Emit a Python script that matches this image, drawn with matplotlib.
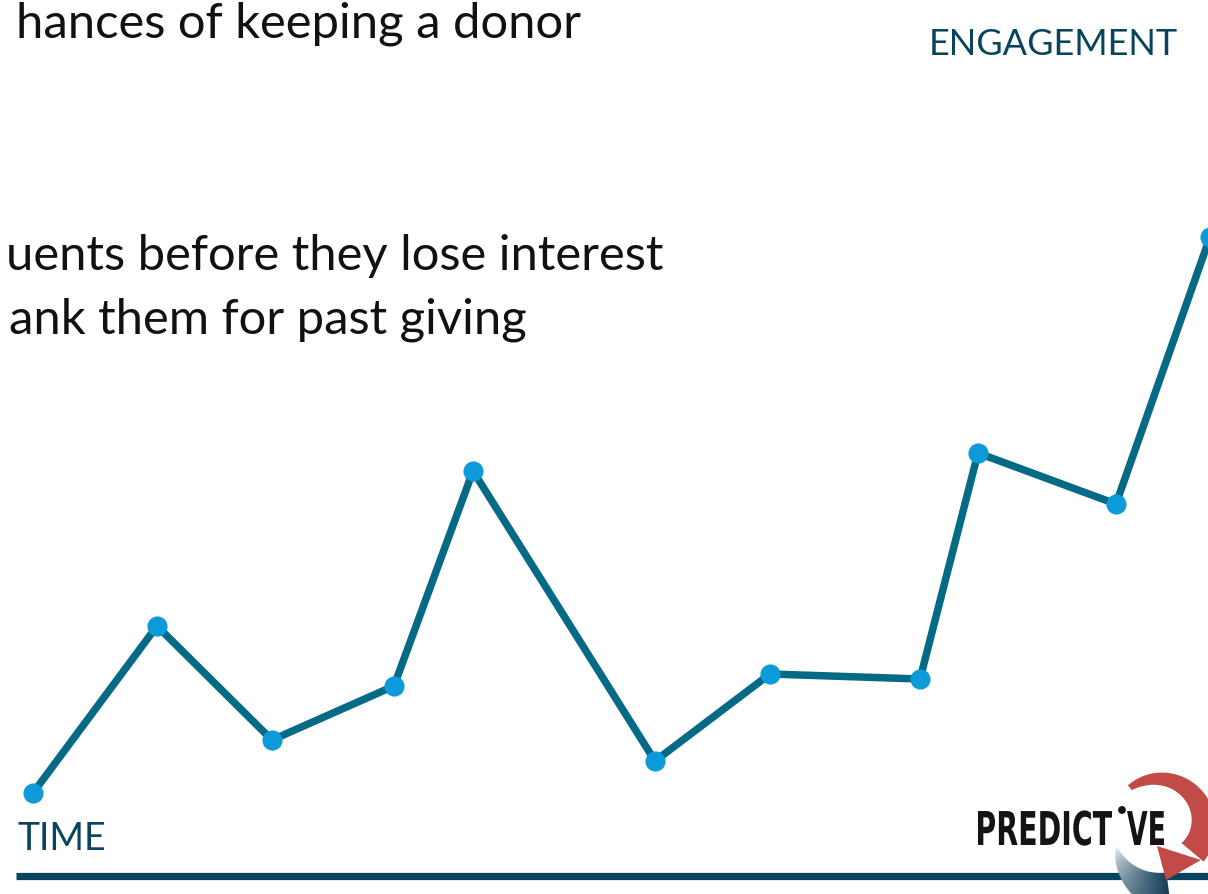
import numpy as np
import matplotlib
matplotlib.use("Agg")
import matplotlib.pyplot as plt
from matplotlib.patches import Polygon, Circle, PathPatch
from matplotlib.textpath import TextPath
from matplotlib.font_manager import FontProperties
from matplotlib.transforms import Affine2D

# engagement over time (pixel-like units, y up)
time_pos = [33, 157, 272, 394, 473, 655, 770, 920, 978, 1116, 1210]
engagement = [101, 268, 154, 208, 423, 133, 220, 215, 441, 390, 657]

# slide text (left part of each line is cropped off the picture)
body_lines = ["hances of keeping a donor",
              "uents before they lose interest",
              "ank them for past giving"]
x_label = "TIME"
y_label = "ENGAGEMENT"

W, H = 1208, 894
line_col = "#046a85"
dot_col = "#0c9ad8"
navy = "#08445e"

fig = plt.figure(figsize=(W / 100, H / 100), dpi=100)
ax = fig.add_axes([0, 0, 1, 1])
ax.set_xlim(0, W)
ax.set_ylim(0, H)
ax.axis("off")

# body text
body_font = ["Lato", "DejaVu Sans"]
for txt, xr, yb in zip(body_lines, [581, 663, 527], [38, 270, 333]):
    ax.text(xr, H - yb, txt, ha="right", va="baseline", fontsize=35.3,
            family=body_font, color="#111111")

# axis labels
ax.text(1178, H - 55, y_label, ha="right", va="baseline", fontsize=26,
        family=body_font, color=navy)
ax.text(17, H - 850, x_label, ha="left", va="baseline", fontsize=27,
        family=body_font, color=navy)

# baseline (time axis)
ax.plot([16, W + 5], [H - 875.5, H - 875.5], color=navy, lw=5.2,
        solid_capstyle="butt", zorder=1)

# the engagement line
ax.plot(time_pos, engagement, color=line_col, lw=5.4, zorder=3)
ax.plot(time_pos, engagement, "o", color=dot_col, ms=13.5, zorder=4)

# ---- logo ----
cx, cy = 1160, H - 825

# blue swoosh (gradient, drawn as small slices)
angs = np.linspace(205, 277, 50)
c0 = np.array([1.0, 1.0, 1.0])
c1 = np.array([0.09, 0.25, 0.36])
for i in range(len(angs) - 1):
    t = i / (len(angs) - 2)
    a0, a1 = np.radians(angs[i]), np.radians(angs[i + 1] + 0.6)
    r_out = 49 + 28 * min(1.0, t / 0.65)
    r_in = 48.0
    c = (1 - t ** 0.7) * c0 + t ** 0.7 * c1
    pts = [(cx + r_out * np.cos(a0), cy + r_out * np.sin(a0)),
           (cx + r_out * np.cos(a1), cy + r_out * np.sin(a1)),
           (cx + r_in * np.cos(a1), cy + r_in * np.sin(a1)),
           (cx + r_in * np.cos(a0), cy + r_in * np.sin(a0))]
    ax.add_patch(Polygon(pts, closed=True, color=c, lw=0, zorder=5))

# red arrow
n = 80
th = np.radians(np.linspace(129, -40, n))
r_o = np.linspace(51, 57, n)
r_i = 45 - 17 * np.linspace(0, 1, n) ** 0.8
outer = np.column_stack([cx + r_o * np.cos(th), cy + r_o * np.sin(th)])
inner = np.column_stack([cx + r_i * np.cos(th), cy + r_i * np.sin(th)])[::-1]
head = [(1201, H - 860), (1166, H - 880), (1157, H - 846)]
red = "#c24b48"
ax.add_patch(Polygon(np.vstack([outer, inner]), closed=True, color=red, lw=0, zorder=6))
ax.add_patch(Polygon(head, closed=True, color=red, lw=0, zorder=6))

# logo lettering, squeezed to a condensed shape
def logo_word(s, x0, x1, base, cap):
    tp = TextPath((0, 0), s, size=100, prop=FontProperties(family="DejaVu Sans", weight="bold"))
    ext = tp.get_extents()
    sx = (x1 - x0) / ext.width
    sy = cap / 73.0
    tr = Affine2D().translate(-ext.x0, 0).scale(sx, sy).translate(x0, base)
    ax.add_patch(PathPatch(tr.transform_path(tp), color="#141414", lw=0, zorder=7))

logo_word("PREDICT", 978, 1112, H - 845, 34)
logo_word("VE", 1127, 1164, H - 845, 34)
ax.add_patch(Circle((1122, H - 810), 3.2, color="#141414", zorder=7))

fig.savefig("out.png", dpi=100)
